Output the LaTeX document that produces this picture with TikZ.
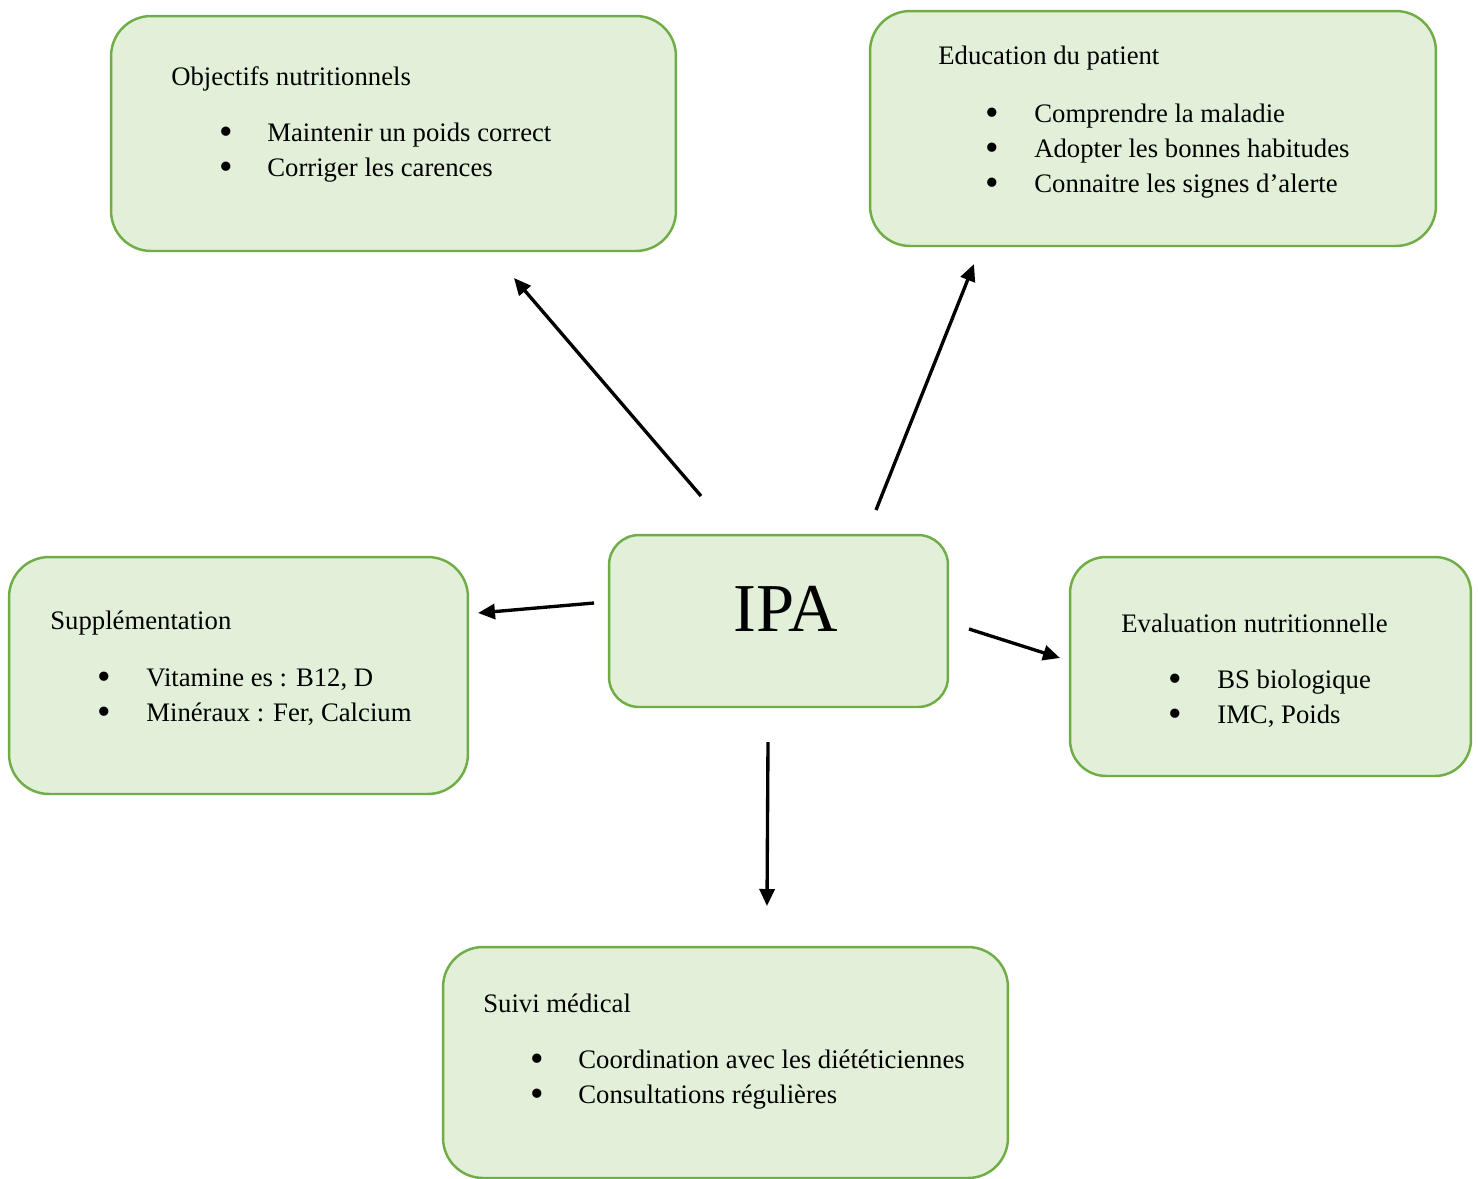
\documentclass[tikz,border=0pt]{standalone}
\usepackage{fontspec}
\setmainfont{Liberation Serif}
\usetikzlibrary{arrows.meta}
\definecolor{boxfill}{HTML}{E2EFD9}
\definecolor{boxdraw}{HTML}{70AD47}
\tikzset{
  box/.style={draw=boxdraw, fill=boxfill, line width=1.4pt, rounded corners=0.8cm, inner sep=0pt},
  ipabox/.style={box, rounded corners=0.6cm},
  lbl/.style={anchor=base west, inner sep=0pt, font=\fontsize{15.2}{18}\selectfont},
  bul/.style={anchor=base, inner sep=0pt, yshift=-0.06cm, font=\fontsize{22}{24}\selectfont},
  arr/.style={line width=1.9pt, -{Triangle[length=0.34cm,width=0.3cm]}}
}
\begin{document}
\begin{tikzpicture}[x=0.02cm,y=-0.02cm]
\useasboundingbox (0,0) rectangle (1478,1178);
\clip (0,0) rectangle (1478,1178);
% boxes
\node[box, minimum width=11.3cm, minimum height=4.7cm] (obj) at (393.5,133.5) {};
\node[box, minimum width=11.32cm, minimum height=4.7cm] (edu) at (1153,128.5) {};
\node[ipabox, minimum width=6.78cm, minimum height=3.44cm] (ipa) at (778.5,621) {};
\node[box, minimum width=9.18cm, minimum height=4.74cm] (sup) at (238.5,675.5) {};
\node[box, rounded corners=0.72cm, minimum width=8.02cm, minimum height=4.38cm] (eva) at (1270.5,666.5) {};
\node[box, minimum width=11.3cm, minimum height=4.62cm] (sui) at (725.5,1062.5) {};
% IPA
\node[anchor=base, inner sep=0pt, font=\fontsize{39}{46}\selectfont] (ipat) at (785.5,631) {IPA};
% Objectifs
\node[lbl] (objt) at (171,85) {Objectifs nutritionnels};
\node[bul] (objb1) at (226,141) {•};
\node[lbl] (obj1) at (267,141) {Maintenir un poids correct};
\node[bul] (objb2) at (226,176) {•};
\node[lbl] (obj2) at (267,176) {Corriger les carences};
% Education
\node[lbl] (edut) at (938,64) {Education du patient};
\node[bul] (edub1) at (992,122) {•};
\node[lbl] (edu1) at (1034,122) {Comprendre la maladie};
\node[bul] (edub2) at (992,157) {•};
\node[lbl] (edu2) at (1034,157) {Adopter les bonnes habitudes};
\node[bul] (edub3) at (992,192) {•};
\node[lbl] (edu3) at (1034,192) {Connaitre les signes d’alerte};
% Supplementation
\node[lbl] (supt) at (50,629) {Supplémentation};
\node[bul] (supb1) at (104,686) {•};
\node[lbl] (sup1) at (146,686) {Vitamine es : B12, D};
\node[bul] (supb2) at (104,721) {•};
\node[lbl] (sup2) at (146,721) {Minéraux : Fer, Calcium};
% Evaluation
\node[lbl] (evat) at (1121,632) {Evaluation nutritionnelle};
\node[bul] (evab1) at (1175,688) {•};
\node[lbl] (eva1) at (1217,688) {BS biologique};
\node[bul] (evab2) at (1175,723) {•};
\node[lbl] (eva2) at (1217,723) {IMC, Poids};
% Suivi
\node[lbl] (suit) at (483,1012) {Suivi médical};
\node[bul] (suib1) at (537,1068) {•};
\node[lbl] (sui1) at (578,1068) {Coordination avec les diététiciennes};
\node[bul] (suib2) at (537,1103) {•};
\node[lbl] (sui2) at (578,1103) {Consultations régulières};
% arrows
\coordinate (a1s) at (701,496); \coordinate (a1e) at (514,278);
\coordinate (a2s) at (876,510); \coordinate (a2e) at (974,264);
\coordinate (a3s) at (594,603); \coordinate (a3e) at (478,613);
\coordinate (a4s) at (969,629); \coordinate (a4e) at (1060,658);
\coordinate (a5s) at (768,742); \coordinate (a5e) at (767,906);
\draw[arr] (a1s) -- (a1e);
\draw[arr] (a2s) -- (a2e);
\draw[arr] (a3s) -- (a3e);
\draw[arr] (a4s) -- (a4e);
\draw[arr] (a5s) -- (a5e);
\end{tikzpicture}
\end{document}
